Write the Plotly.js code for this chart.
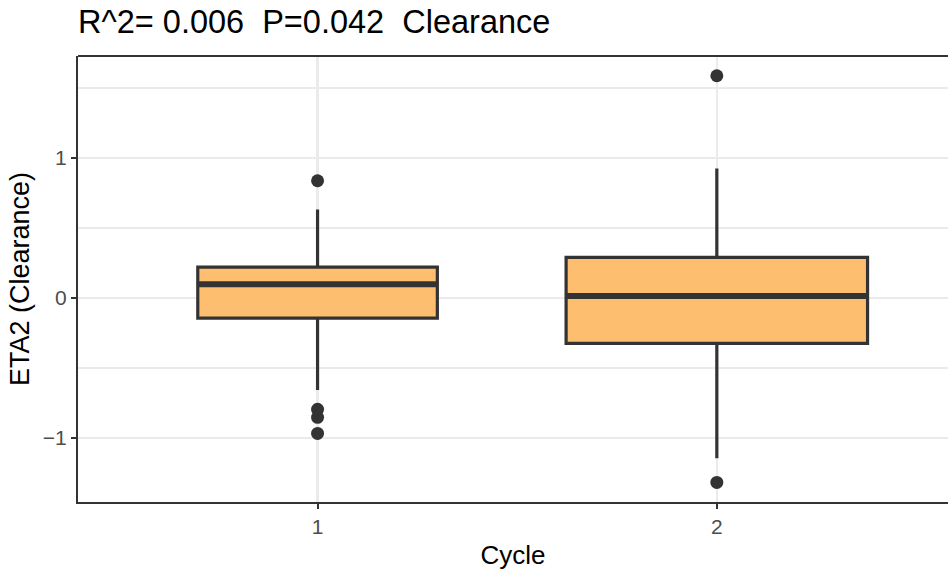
<!DOCTYPE html>
<html>
<head>
<meta charset="utf-8">
<script src="https://cdn.plot.ly/plotly-3.0.1.min.js"></script>
<style>
  html, body { margin: 0; padding: 0; background: #ffffff; }
  #chart { width: 948px; height: 571px; }
</style>
</head>
<body>
<div id="chart"></div>
<script>
// Cycle groups and the box statistics of ETA2 (Clearance) in each
const cycles = ["1", "2"];
const q1 = [-0.143, -0.324];
const medians = [0.098, 0.014];
const q3 = [0.221, 0.291];
const lowerWhisker = [-0.657, -1.145];
const upperWhisker = [0.633, 0.926];
// outlying observations per cycle
const outliers1 = [0.838, -0.795, -0.852, -0.967];
const outliers2 = [1.588, -1.317];
const outliers = [outliers1, outliers2];

// box widths (variable width, by group size)
const boxWidths = [0.6, 0.755];

const ink = "#333333";
const fill = "#FDBF6F";
const fontFam = "Liberation Sans, Arial, sans-serif";

const positions = cycles.map((c, i) => i + 1);
const traces = [];

positions.forEach((p, i) => {
  traces.push({
    type: "box",
    x: [p],
    q1: [q1[i]],
    median: [medians[i]],
    q3: [q3[i]],
    lowerfence: [lowerWhisker[i]],
    upperfence: [upperWhisker[i]],
    width: boxWidths[i],
    fillcolor: fill,
    line: { color: ink, width: 3.2 },
    whiskerwidth: 0,
    boxpoints: false,
    hoverinfo: "skip",
    showlegend: false
  });
  // heavier median bar across the box
  traces.push({
    type: "scatter",
    mode: "lines",
    x: [p - boxWidths[i] / 2, p + boxWidths[i] / 2],
    y: [medians[i], medians[i]],
    line: { color: ink, width: 6 },
    hoverinfo: "skip",
    showlegend: false
  });
  traces.push({
    type: "scatter",
    mode: "markers",
    x: outliers[i].map(() => p),
    y: outliers[i],
    marker: { color: ink, size: 13 },
    hoverinfo: "skip",
    showlegend: false
  });
});

const layout = {
  width: 948,
  height: 571,
  margin: { l: 78, r: 0, t: 56, b: 69 },
  paper_bgcolor: "#ffffff",
  plot_bgcolor: "#ffffff",
  font: { family: fontFam, color: "#000000" },
  title: {
    text: "R^2= 0.006\u00A0 P=0.042\u00A0 Clearance",
    font: { family: fontFam, size: 32.5, color: "#000000" },
    xref: "paper", x: 0, xanchor: "left",
    yref: "container", y: 1 - 22 / 571, yanchor: "middle"
  },
  xaxis: {
    range: [0.4, 2.579],
    tickmode: "array",
    tickvals: positions,
    ticktext: cycles,
    showgrid: true,
    gridcolor: "#EBEBEB",
    gridwidth: 2.5,
    zeroline: false,
    showline: true,
    linecolor: ink,
    linewidth: 2,
    ticks: "outside",
    ticklen: 5,
    tickwidth: 2,
    tickcolor: ink,
    tickfont: { family: fontFam, size: 21, color: "#4D4D4D" },
    title: { text: "Cycle", font: { family: fontFam, size: 26, color: "#000000" }, standoff: 9 }
  },
  yaxis: {
    range: [-1.457, 1.729],
    tickmode: "linear",
    tick0: 0,
    dtick: 1,
    minor: { dtick: 0.5, tick0: 0, showgrid: true, gridcolor: "#EBEBEB", gridwidth: 1.2, ticks: "" },
    showgrid: true,
    gridcolor: "#EBEBEB",
    gridwidth: 2.5,
    zeroline: false,
    showline: true,
    linecolor: ink,
    linewidth: 2,
    ticks: "outside",
    ticklen: 5,
    tickwidth: 2,
    tickcolor: ink,
    tickfont: { family: fontFam, size: 21, color: "#4D4D4D" },
    title: { text: "ETA2 (Clearance)", font: { family: fontFam, size: 27, color: "#000000" }, standoff: 5 }
  },
  shapes: [
    { type: "line", xref: "paper", yref: "paper", x0: 0, x1: 1, y0: 1, y1: 1,
      line: { color: ink, width: 2 } }
  ]
};

Plotly.newPlot("chart", traces, layout, { displayModeBar: false, staticPlot: true });
</script>
</body>
</html>
